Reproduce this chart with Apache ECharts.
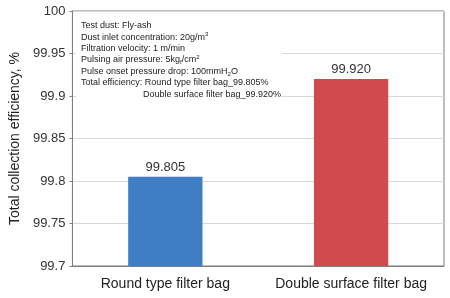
<!DOCTYPE html>
<html><head><meta charset="utf-8">
<script src="https://cdn.jsdelivr.net/npm/echarts@6/dist/echarts.min.js"></script>
<style>html,body{margin:0;padding:0;background:#fff}#c{width:450px;height:298px}</style>
</head><body><div id="c"></div>
<script>
const categories = ['Round type filter bag', 'Double surface filter bag'];
const efficiency = [99.805, 99.920];
const barColors = ['#3F7EC5', '#D04A4E'];
const yTicks = { min: 99.7, max: 100, interval: 0.05 };
const noteLines = [
  'Test dust: Fly-ash',
  'Dust inlet concentration: 20g/m{sup|3}',
  'Filtration velocity: 1 m/min',
  'Pulsing air pressure: 5kg{sub|f}/cm{sup|2}',
  'Pulse onset pressure drop: 100mmH{sub|2}O',
  'Total efficiency: Round type filter bag_99.805%'
];
const noteLast = 'Double surface filter bag_99.920%';

const chart = echarts.init(document.getElementById('c'));
const F = 'Arial, "Liberation Sans", sans-serif';
const rich = {
  sup: { fontSize: 6, fontFamily: F, fill: '#222', verticalAlign: 'top', lineHeight: 11.4 },
  sub: { fontSize: 6, fontFamily: F, fill: '#222', verticalAlign: 'bottom', lineHeight: 8 }
};
chart.setOption({
  animation: false,
  grid: { left: 72, right: 6, top: 11, bottom: 32, show: true, borderColor: '#7f7f7f', borderWidth: 1 },
  xAxis: {
    type: 'category', data: categories,
    axisLine: { lineStyle: { color: '#7f7f7f' } },
    axisTick: { show: false },
    axisLabel: { color: '#222', fontSize: 14, fontFamily: F, margin: 11, interval: 0 }
  },
  yAxis: {
    type: 'value', min: yTicks.min, max: yTicks.max, interval: yTicks.interval,
    name: 'Total collection efficiency, %', nameLocation: 'middle', nameGap: 50,
    nameTextStyle: { color: '#222', fontSize: 14, fontFamily: F },
    axisLine: { show: true, lineStyle: { color: '#7f7f7f' } },
    axisTick: { show: true, length: 3, lineStyle: { color: '#7f7f7f' } },
    axisLabel: { color: '#333', fontSize: 13, fontFamily: F, margin: 7,
      formatter: v => String(parseFloat(v.toFixed(2))) },
    splitLine: { lineStyle: { color: '#d9d9d9' } }
  },
  series: [{
    type: 'bar', barWidth: '40%',
    data: efficiency.map((v, i) => ({ value: v, itemStyle: { color: barColors[i] } })),
    label: { show: true, position: 'top', color: '#333', fontSize: 13, fontFamily: F, distance: 3,
      formatter: p => p.value.toFixed(3) }
  }],
  graphic: [
    { type: 'rect', left: 76, top: 14, shape: { width: 206, height: 89 }, style: { fill: '#fff' }, z: 10 },
    { type: 'text', left: 81, top: 20, z: 11,
      style: { text: noteLines.join('\n'), font: '9px ' + F, fill: '#222', lineHeight: 11.4, rich } },
    { type: 'text', left: 143, top: 88.4, z: 11,
      style: { text: noteLast, font: '9px ' + F, fill: '#222', lineHeight: 11.4 } }
  ]
});
</script></body></html>
